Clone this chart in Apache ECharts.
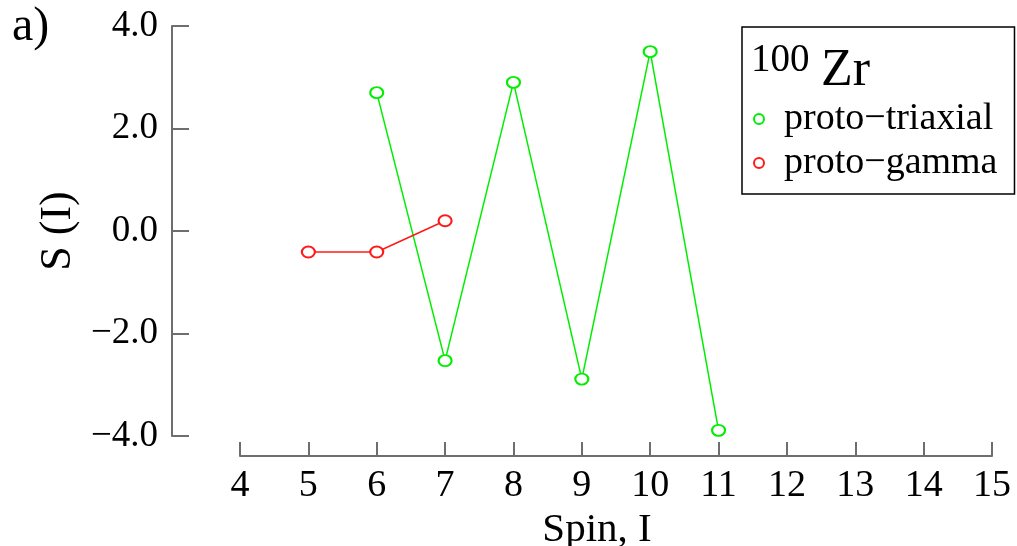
<!DOCTYPE html>
<html>
<head>
<meta charset="utf-8">
<script src="https://cdn.jsdelivr.net/npm/echarts@6/dist/echarts.min.js"></script>
<style>
  html, body { margin: 0; padding: 0; background: #ffffff; }
  #chart { width: 1017px; height: 546px; }
</style>
</head>
<body>
<div id="chart"></div>
<script>
// Spin values (x) and staggering S(I) for 100Zr
const spinTriaxial = [6, 7, 8, 9, 10, 11];
const sTriaxial = [2.7, -2.53, 2.9, -2.89, 3.5, -3.89];
const spinGamma = [5, 6, 7];
const sGamma = [-0.41, -0.41, 0.2];
const seriesNames = ['proto\u2212triaxial', 'proto\u2212gamma'];

const FONT = '"Liberation Serif", "Times New Roman", serif';
const GREEN = '#00ee00';
const RED = '#ff1a1a';

const pairs = (xs, ys) => xs.map((x, i) => [x, ys[i]]);

const chart = echarts.init(document.getElementById('chart'), null, { renderer: 'canvas' });

chart.setOption({
  backgroundColor: '#ffffff',
  animation: false,
  grid: { left: 240, right: 25, top: 26, bottom: 110, outerBoundsMode: 'none', containLabel: false },
  xAxis: {
    type: 'value',
    min: 4, max: 15, interval: 1,
    offset: 20,
    name: 'Spin, I',
    nameLocation: 'middle',
    nameGap: 46,
    nameTextStyle: { fontFamily: FONT, fontSize: 41, color: '#000', padding: [0, 38, 0, 0] },
    axisLine: { show: true, onZero: false, lineStyle: { color: '#6e6e6e', width: 2 } },
    axisTick: { show: true, inside: true, length: 14, lineStyle: { color: '#6e6e6e', width: 2 } },
    axisLabel: { fontFamily: FONT, fontSize: 38, color: '#000', margin: 11 },
    splitLine: { show: false }
  },
  yAxis: {
    type: 'value',
    min: -4, max: 4, interval: 2,
    offset: 68,
    name: 'S (I)',
    nameLocation: 'middle',
    nameGap: 87,
    nameRotate: 90,
    nameTextStyle: { fontFamily: FONT, fontSize: 44, color: '#000' },
    axisLine: { show: true, onZero: false, lineStyle: { color: '#6e6e6e', width: 2 } },
    axisTick: { show: true, inside: true, length: 17, lineStyle: { color: '#6e6e6e', width: 2 } },
    axisLabel: {
      fontFamily: FONT, fontSize: 37, color: '#000', margin: 14,
      formatter: v => v.toFixed(1).replace('-', '\u2212')
    },
    splitLine: { show: false }
  },
  legend: {
    orient: 'vertical',
    left: 742, top: 27,
    padding: [73, 17, 12, 11],
    itemGap: 6,
    itemWidth: 12, itemHeight: 10,
    icon: 'emptyCircle',
    borderColor: '#000', borderWidth: 1.5,
    backgroundColor: '#ffffff',
    textStyle: { fontFamily: FONT, fontSize: 38, color: '#000', lineHeight: 36, padding: [0, 0, 0, 14] },
    data: seriesNames
  },
  graphic: [
    { type: 'text', left: 12, top: 3, style: { text: 'a)', font: '48px ' + FONT, fill: '#000' } },
    { type: 'text', left: 751, top: 41, z: 100, style: { text: '100', font: '39px ' + FONT, fill: '#000' } },
    { type: 'text', left: 821, top: 45, z: 100, style: { text: 'Zr', font: '52px ' + FONT, fill: '#000' } }
  ],
  series: [
    {
      name: seriesNames[0],
      type: 'line',
      data: pairs(spinTriaxial, sTriaxial),
      symbol: 'emptyCircle',
      symbolSize: [13, 11],
      itemStyle: { color: GREEN, borderWidth: 1.5 },
      lineStyle: { color: GREEN, width: 1.5 }
    },
    {
      name: seriesNames[1],
      type: 'line',
      data: pairs(spinGamma, sGamma),
      symbol: 'emptyCircle',
      symbolSize: [13, 11],
      itemStyle: { color: RED, borderWidth: 1.5 },
      lineStyle: { color: RED, width: 1.5 }
    }
  ]
});
</script>
</body>
</html>
